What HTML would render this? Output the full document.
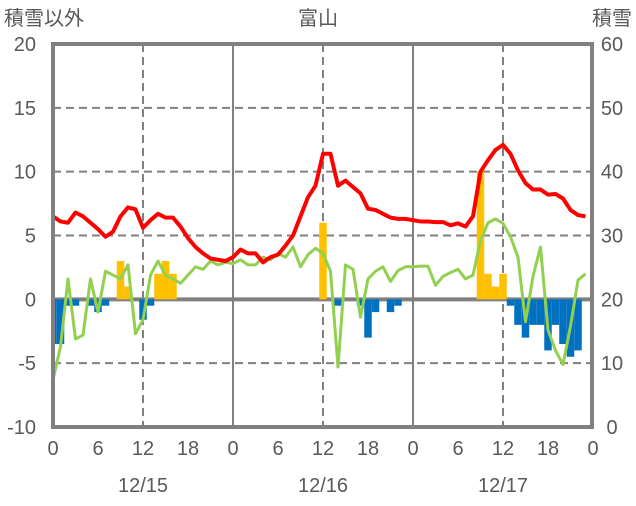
<!DOCTYPE html>
<html><head><meta charset="utf-8"><style>
body{margin:0;background:#fff;}
svg text{font-family:"Liberation Sans","Noto Sans CJK JP",sans-serif;fill:#595959;font-size:20px;}
</style></head><body>
<svg id="chart" width="636" height="501" viewBox="0 0 636 501" xmlns="http://www.w3.org/2000/svg">
<g id="grid"></g>
<g id="bars"></g>
<g id="lines"></g>
<g id="frame"></g>
<g id="labels"></g>
</svg>
<script>
const hours = Array.from({length:72},(_,i)=>i);
const temperature = [6.5,6.1,6.0,6.8,6.5,6.0,5.5,4.9,5.3,6.5,7.2,7.05,5.6,6.2,6.7,6.4,6.4,5.7,4.8,4.1,3.6,3.2,3.1,3.0,
3.3,3.9,3.6,3.6,2.9,3.3,3.5,4.2,5.0,6.5,8.0,8.9,11.4,11.4,8.9,9.3,8.8,8.3,7.1,7.0,6.7,6.4,6.3,6.3,
6.2,6.1,6.1,6.05,6.05,5.8,5.95,5.7,6.5,10.0,10.9,11.7,12.1,11.4,10.1,9.1,8.6,8.6,8.2,8.25,7.9,7.0,6.6,6.5];
const otherSeries = [-6.3,-3.7,1.6,-3.1,-2.8,1.6,-1.0,2.2,1.9,1.6,2.7,-2.7,-1.6,1.9,3.0,1.9,1.6,1.25,1.9,2.55,2.35,3.0,2.7,2.9,
2.8,3.1,2.7,2.7,3.3,3.1,3.6,3.3,4.1,2.55,3.5,4.0,3.6,2.2,-5.3,2.7,2.35,-1.4,1.6,2.2,2.55,1.4,2.25,2.55,
2.55,2.6,2.6,1.1,1.8,2.1,2.35,1.6,1.9,4.6,6.0,6.3,5.95,4.9,3.3,-1.75,1.8,4.1,-2.4,-4.0,-5.1,-2.1,1.5,2.0];
const snowfall = {9:3,10:1,14:2,15:3,16:2,36:6,57:10,58:2,59:1,60:2};
const snowDecrease = {0:-3.5,1:-3.5,2:-0.5,3:-0.5,5:-0.5,6:-1.0,7:-0.5,12:-1.6,13:-0.5,38:-0.5,41:-0.5,42:-3.0,43:-1.0,45:-1.0,46:-0.5,
61:-0.5,62:-2.0,63:-3.0,64:-2.0,65:-2.0,66:-4.0,67:-2.0,68:-3.5,69:-4.5,70:-4.0};
const snowDepth = Array(72).fill(0);
const leftTicks = [20,15,10,5,0,-5,-10];
const rightTicks = [60,50,40,30,20,10,0];
const xTicks = [0,6,12,18,0,6,12,18,0,6,12,18,0];
const dayLabels = ['12/15','12/16','12/17'];

const NS='http://www.w3.org/2000/svg';
const X0=53,X1=593,Y20=44,Ym10=427;
const x=h=>X0+(X1-X0)*h/72;
const y=v=>Ym10-(v+10)*(Ym10-Y20)/30;
const yr=v=>Ym10-v*(Ym10-Y20)/60;
function el(tag,attrs,parent){const e=document.createElementNS(NS,tag);for(const k in attrs)e.setAttribute(k,attrs[k]);parent.appendChild(e);return e;}
const grid=document.getElementById('grid'),bars=document.getElementById('bars'),lines=document.getElementById('lines'),frame=document.getElementById('frame'),labels=document.getElementById('labels');
[15,10,5,-5].forEach(v=>{const l=el('line',{x1:X0,x2:X1,y1:y(v),y2:y(v),stroke:'#808080','stroke-width':2,'stroke-dasharray':'8,5'},grid);

});
[12,36,60].forEach(h=>{const l=el('line',{x1:x(h),x2:x(h),y1:Y20,y2:Ym10,stroke:'#808080','stroke-width':2,'stroke-dasharray':'8,5'},grid);

});
[24,48].forEach(h=>{const l=el('line',{x1:x(h),x2:x(h),y1:Y20,y2:Ym10,stroke:'#808080','stroke-width':2},grid);

});
const bw=(X1-X0)/72;
function bar(h,v,color,name){let x0=Math.max(X0,x(h)-bw/2),x1=Math.min(X1,x(h)+bw/2);
const y0=y(0),y1=y(v);const r=el('rect',{x:x0,y:Math.min(y0,y1),width:x1-x0,height:Math.abs(y1-y0),fill:color},bars);

}
for(const h in snowfall)bar(+h,snowfall[h],'#FFC000','snowfall-bar');
for(const h in snowDecrease)bar(+h,snowDecrease[h],'#0070C0','snow-decrease-bar');
const zl=el('line',{x1:X0,x2:X1,y1:y(0),y2:y(0),stroke:'#808080','stroke-width':4},grid);


function poly(data,fy,color,w,name){const p=el('polyline',{points:data.map((v,i)=>x(hours[i])+','+fy(v)).join(' '),fill:'none',stroke:color,'stroke-width':w,'stroke-linejoin':'round'},lines);

}
poly(otherSeries,y,'#92D050',3,'green-series-line');
poly(temperature,y,'#FF0000',4,'temperature-line');
const fr=el('path',{d:`M${X0},${Ym10} L${X0},${Y20} L${X1-1},${Y20} L${X1-1},${Ym10} Z`,fill:'none',stroke:'#808080','stroke-width':4},frame);


poly(snowDepth,yr,'#7030A0',3,'snow-depth-line');
leftTicks.forEach(v=>{const t=el('text',{x:36,y:y(v)+7,'text-anchor':'end'},labels);t.textContent=v;

});
rightTicks.forEach(v=>{const t=el('text',{x:612,y:yr(v)+7,'text-anchor':'middle'},labels);t.textContent=v;

});
xTicks.forEach((v,i)=>{const t=el('text',{x:x(i*6),y:455,'text-anchor':'middle'},labels);t.textContent=v;

});
dayLabels.forEach((d,i)=>{const t=el('text',{x:x(12+24*i),y:492,'text-anchor':'middle'},labels);t.textContent=d;

});
[['積雪以外',4,'start','left-axis-title'],['富山',318,'middle','chart-title'],['積雪',632,'end','right-axis-title']].forEach(a=>{
const t=el('text',{x:a[1],y:25,'text-anchor':a[2]},labels);t.textContent=a[0];

});
</script>
</body></html>
